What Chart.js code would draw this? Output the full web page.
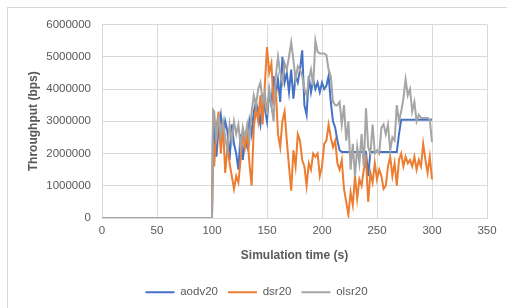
<!DOCTYPE html>
<html>
<head>
<meta charset="utf-8">
<script src="https://cdn.jsdelivr.net/npm/chart.js@4/dist/chart.umd.min.js"></script>
<style>
html,body{margin:0;padding:0;background:#fff;overflow:hidden;}
#wrap{position:relative;width:507px;height:308px;overflow:hidden;}
#frame{position:absolute;left:7px;top:7px;width:600px;height:400px;border:1px solid #d9d9d9;}
#chart{position:absolute;left:0;top:0;}
</style>
</head>
<body>
<div id="wrap">
<div id="frame"></div>
<canvas id="chart" width="522" height="308"></canvas>
</div>
<script>
/* ========= DATA ========= */

const time = [
0, 100, 101,
102, 104, 106, 108, 110, 112, 114, 116, 118, 120,
122, 124, 126, 128, 130, 132, 134, 136, 138, 140,
142, 144, 146, 148, 150, 152, 154, 156, 158, 160,
162, 164, 166, 168, 170, 172, 174, 176, 178, 180,
182, 184, 186, 188, 190, 192, 194, 196, 198, 200,
202, 204, 206, 208, 210, 212, 214, 216, 218, 220,
222, 224, 226, 228, 230, 232, 234, 236, 238, 240,
242, 244, 246, 248, 250, 252, 254, 256, 258, 260,
262, 264, 266, 268, 270, 272, 274, 276, 278, 280,
282, 284, 286, 288, 290, 292, 294, 296, 298, 300
];

const aodv20 = [
0, 0, 3200000,
2600000, 1900000, 2800000, 3200000, 2400000, 3000000, 2700000, 1800000, 2900000, 2300000,
2000000, 1500000, 2600000, 1800000, 2400000, 2200000, 3000000, 2600000, 3300000, 3600000,
3300000, 2900000, 3700000, 3400000, 3000000, 3900000, 3500000, 4400000, 3800000, 4300000,
3600000, 5000000, 4200000, 4500000, 3900000, 4600000, 3700000, 4400000, 4200000, 4600000,
5200000, 3500000, 3200000, 4400000, 3900000, 4300000, 4000000, 4200000, 3900000, 4200000,
4000000, 4100000, 4400000, 3600000, 3000000, 2800000, 2400000, 2100000, 2050000, 2050000,
2050000, 2050000, 2050000, 2050000, 2050000, 2050000, 2050000, 2050000, 2050000, 2050000,
1300000, 2050000, 2050000, 2050000, 2050000, 2050000, 2050000, 2050000, 2050000, 2050000,
2050000, 2050000, 2050000, 2050000, 2600000, 3050000, 3050000, 3050000, 3050000, 3050000,
3050000, 3050000, 3050000, 3050000, 3050000, 3050000, 3050000, 3050000, 3050000, 3050000
];

const dsr20 = [
0, 0, 2200000,
1600000, 2800000, 3300000, 2000000, 2900000, 1400000, 2200000, 1700000, 1300000, 900000,
1300000, 1100000, 1800000, 2700000, 2200000, 2600000, 1700000, 1000000, 2800000, 3400000,
3000000, 3800000, 2900000, 4100000, 5300000, 4500000, 4800000, 3500000, 4000000, 2600000,
2200000, 3000000, 3300000, 2400000, 1600000, 850000, 2100000, 1600000, 2600000, 2400000,
1800000, 1600000, 1000000, 1700000, 1500000, 2000000, 1900000, 2000000, 1300000, 1600000,
2300000, 2400000, 2900000, 2500000, 2200000, 2400000, 1700000, 1500000, 1800000, 900000,
500000, 100000, 800000, 400000, 1300000, 600000, 1200000, 1000000, 1500000, 1800000,
500000, 1400000, 1100000, 1700000, 1200000, 1500000, 1300000, 900000, 1000000, 1600000,
1900000, 1300000, 1700000, 1000000, 1800000, 2000000, 1600000, 1900000, 1700000, 1800000,
1600000, 1900000, 1500000, 1800000, 1600000, 2300000, 1800000, 1400000, 1900000, 1200000
];

const olsr20 = [
0, 0, 3350000,
3300000, 2400000, 3200000, 2600000, 3000000, 2500000, 2100000, 2900000, 2400000, 3000000,
2600000, 2900000, 2200000, 2800000, 2500000, 2900000, 2400000, 3300000, 3800000, 3500000,
4000000, 4200000, 3600000, 3900000, 3200000, 4000000, 3500000, 3000000, 4400000, 5000000,
4500000, 4200000, 4800000, 4600000, 5000000, 5450000, 4900000, 4300000, 4700000, 4600000,
4400000, 4000000, 3800000, 4300000, 4600000, 4100000, 5500000, 5150000, 5100000, 5100000,
5100000, 5050000, 4600000, 4400000, 3600000, 3500000, 3500000, 3600000, 2900000, 3500000,
2400000, 3000000, 1500000, 2300000, 1300000, 2200000, 1700000, 2600000, 1600000, 3400000,
2200000, 2000000, 2900000, 2000000, 2100000, 2000000, 2800000, 2900000, 2600000, 2900000,
2100000, 2500000, 2400000, 3500000, 3000000, 3300000, 3700000, 4300000, 3800000, 4000000,
3300000, 3600000, 3000000, 3200000, 3100000, 3100000, 3100000, 3100000, 3050000, 2350000
];

const seriesNames = ["aodv20", "dsr20", "olsr20"];
const seriesColors = ["#4472C4", "#ED7D31", "#A5A5A5"];

/* ========= HELPERS ========= */

function points(values){
  return time.map((t,i) => ({x:t, y:values[i]}));
}

const TEXT = "#595959";
const GRID = "#d9d9d9";

/* ========= CHART ========= */

const ctx = document.getElementById("chart").getContext("2d");

new Chart(ctx,{
  type:"line",
  data:{
    datasets:[aodv20, dsr20, olsr20].map((vals,i) => ({
      label:seriesNames[i],
      data:points(vals),
      borderColor:seriesColors[i],
      backgroundColor:seriesColors[i],
      borderWidth:2,
      pointRadius:0,
      tension:0,
      fill:false,
      order:2-i
    }))
  },
  options:{
    responsive:false,
    animation:false,
    layout:{padding:{left:26, top:24.5, right:35, bottom:0}},
    plugins:{
      tooltip:{enabled:false},
      legend:{
        position:"bottom",
        labels:{
          color:TEXT,
          font:{family:"Liberation Sans", size:11.5},
          boxWidth:29,
          boxHeight:2,
          padding:10,
          generateLabels(chart){
            const items = Chart.defaults.plugins.legend.labels.generateLabels(chart);
            items.forEach(it => { it.fillStyle = it.strokeStyle; it.lineWidth = 0; });
            return items.sort((a,b) => a.datasetIndex - b.datasetIndex);
          }
        }
      }
    },
    scales:{
      x:{
        type:"linear",
        min:0, max:350,
        afterFit(scale){ scale.height = 58.5; },
        ticks:{stepSize:50, color:TEXT, padding:6, maxRotation:0,
          font:{family:"Liberation Sans", size:11.5}},
        grid:{color:GRID, drawTicks:false},
        border:{color:GRID},
        title:{display:true, text:"Simulation time (s)", color:TEXT,
          font:{family:"Liberation Sans", size:12, weight:"bold"},
          padding:{top:0, bottom:14}}
      },
      y:{
        min:0, max:6000000,
        afterFit(scale){ scale.width = 76; },
        ticks:{stepSize:1000000, color:TEXT, padding:11,
          font:{family:"Liberation Sans", size:11.5},
          callback:v => String(v)},
        grid:{color:GRID, drawTicks:false},
        border:{display:false},
        title:{display:true, text:"Throughput (bps)", color:TEXT,
          font:{family:"Liberation Sans", size:12, weight:"bold"},
          padding:{top:0, bottom:0}}
      }
    }
  }
});
</script>
</body>
</html>
